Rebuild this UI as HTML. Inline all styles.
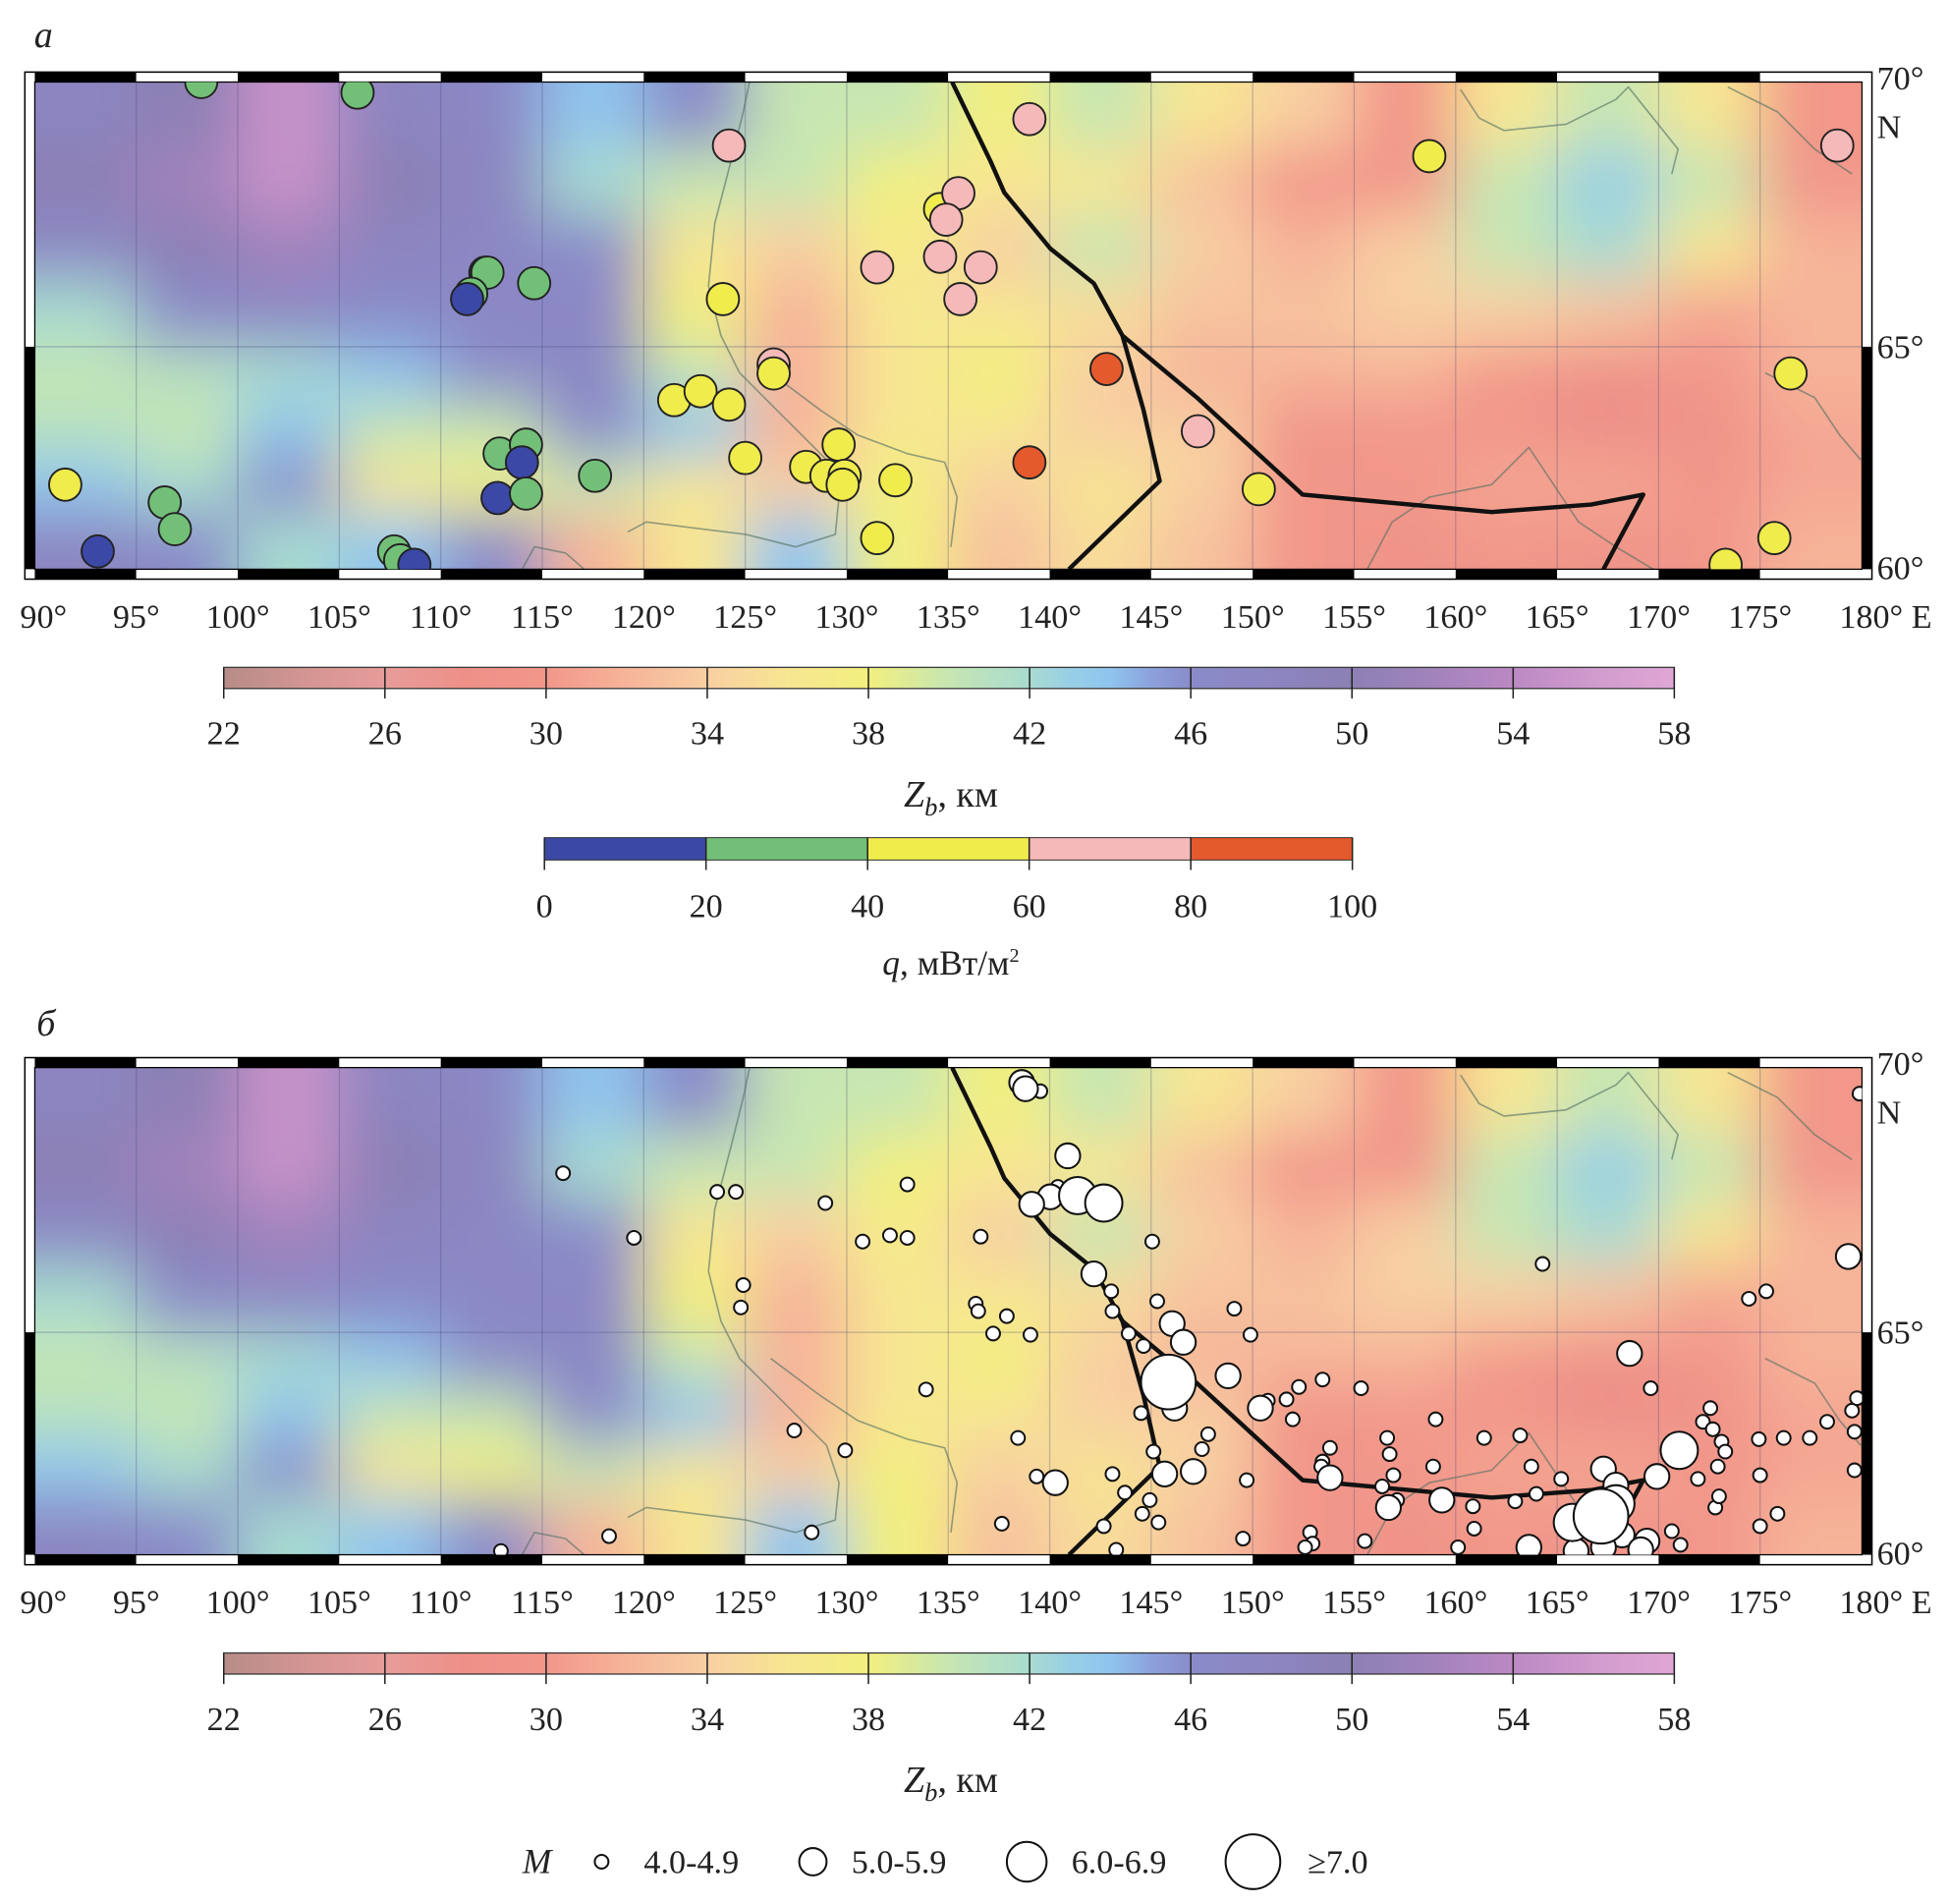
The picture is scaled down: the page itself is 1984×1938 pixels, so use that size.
<!DOCTYPE html>
<html><head><meta charset="utf-8"><style>
html,body{margin:0;padding:0;background:#fff;}
svg{display:block;}
text{font-family:"Liberation Serif",serif;fill:#222;}
</style></head>
<body>
<svg id="fig" xmlns="http://www.w3.org/2000/svg" width="1984" height="1938" viewBox="0 0 1568 1532" preserveAspectRatio="none" font-family="Liberation Serif, serif">
<defs>
<filter id="blur" x="-10%" y="-20%" width="120%" height="140%"><feGaussianBlur stdDeviation="24"/></filter>
<clipPath id="clipA"><rect x="28" y="66" width="1470" height="392"/></clipPath>
<clipPath id="clipB"><rect x="28" y="859" width="1470" height="392"/></clipPath>
<linearGradient id="zgrad" x1="0" x2="1" y1="0" y2="0"></linearGradient>
</defs>
<g id="root"></g>
</svg>
<script>
// ---- data ----
const lonTicks = [90,95,100,105,110,115,120,125,130,135,140,145,150,155,160,165,170,175,180];
const zbTicks = [22,26,30,34,38,42,46,50,54,58];
const qTicks = [0,20,40,60,80,100];
const qColors = ["#3c48a6","#72c078","#f0ec4c","#f4b9b8","#e45a2c"];
const magLabels = ["4.0-4.9","5.0-5.9","6.0-6.9","≥7.0"];
// Zb grid: rows from 70N to 60N in 1.25° steps, columns 90E..180E in 5° steps
const zbGrid = [
 [48,50,55,48,47,44,46,40,40,38,40,36,34,30,36,40,36,30],
 [50,52,55,50,48,42,40,40,38,36,36,33,30,30,40,43,40,30],
 [47,50,52,48,47,46,36,34,37,34,40,34,32,34,40,42,36,32],
 [42,46,47,46,47,47,38,32,36,36,35,33,33,34,34,33,31,32],
 [40,41,42,44,46,47,40,32,36,38,34,32,32,32,30,28,30,32],
 [41,40,44,40,40,46,44,32,36,36,34,34,29,30,30,28,29,31],
 [44,42,46,36,38,40,36,34,38,34,36,34,30,30,31,31,30,31],
 [48,46,42,44,46,32,36,44,38,33,35,33,30,29,30,29,30,32]
];
// heat flow stations: lon, lat, q
const hfLon = [98.2,105.9,124.2,139.0,158.7,178.8,134.6,135.5,134.9,134.6,136.6,131.5,135.6,112.2,112.3,111.5,111.3,114.6,123.9,126.4,126.4,142.8,121.5,122.8,124.2,176.5,147.3,125.0,129.6,128.0,129.0,129.9,129.8,132.4,139.0,150.3,131.5,173.3,175.7,91.5,96.4,96.9,93.1,107.7,108.0,108.7,112.9,114.2,114.0,112.8,114.2,117.6];
const hfLat = [70.0,69.8,68.8,69.3,68.6,68.8,67.6,67.9,67.4,66.7,66.5,66.5,65.9,66.4,66.4,66.0,65.9,66.2,65.9,64.6,64.4,64.5,63.8,64.0,63.7,64.4,63.1,62.5,62.8,62.3,62.1,62.1,61.9,62.0,62.4,61.8,60.7,60.1,60.7,61.9,61.5,60.9,60.4,60.4,60.2,60.1,62.6,62.8,62.4,61.6,61.7,62.1];
const hfQ = [30,30,70,70,50,70,50,70,70,70,70,70,70,10,30,30,10,30,50,70,50,90,50,50,50,50,70,50,50,50,50,50,50,50,90,50,50,50,50,50,30,30,10,30,30,10,30,30,10,10,30,30];
// earthquakes: positions (displayed px) -> lon/lat, magnitude class
const eqX = [822,825,837,859,867,888,845,830,851,453,577,592,664,730,510,694,716,730,789,927,880,894,1241,1487,598,596,785,787,810,799,829,895,931,993,1006,943,952,908,920,940,945,988,1407,1421,1311,745,1328,1014,1035,1020,1045,1064,1095,1040,918,639,819,680,967,972,1155,1194,1223,1116,1118,1070,1064,1153,1121,834,849,895,937,960,928,1003,1070,1063,1160,1117,1112,1124,1185,1219,1236,1256,1232,1290,1300,1333,1351,1366,1382,1370,1378,1385,1388,1376,1415,1435,1456,1470,1492,1490,1494,1492,1416,1380,1383,1288,1300,1305,1265,1325,1352,1345,1230,1268,1290,1320,1416,1430,905,925,919,932,888,806,653,490,403,898,1000,1054,1056,1050,1098,1173,1186,1496];
const eqY = [871,876,878,930,962,968,963,969,955,944,959,959,968,953,996,999,994,996,995,999,1025,1039,1017,1011,1034,1052,1049,1055,1059,1073,1074,1055,1047,1053,1074,1065,1080,1073,1083,1112,1133,1107,1045,1039,1089,1118,1117,1133,1126,1127,1116,1110,1117,1142,1137,1151,1157,1167,1166,1154,1142,1157,1155,1157,1170,1165,1176,1180,1187,1188,1193,1186,1186,1184,1168,1191,1189,1180,1207,1213,1196,1207,1212,1208,1202,1190,1180,1182,1195,1188,1167,1190,1180,1144,1150,1160,1168,1133,1158,1157,1157,1144,1152,1135,1125,1183,1187,1213,1204,1220,1210,1235,1225,1240,1243,1232,1245,1248,1245,1247,1228,1218,1201,1207,1218,1225,1228,1226,1233,1236,1248,1247,1238,1233,1242,1245,1240,1245,1230,880];
const eqM = [1,1,0,1,2,2,1,1,0,0,0,0,0,0,0,0,0,0,0,0,1,0,0,1,0,0,0,0,0,0,0,0,0,0,0,1,1,0,0,3,1,1,0,0,1,0,0,1,0,0,0,0,0,0,0,0,0,0,0,0,0,0,0,0,0,0,0,0,0,0,1,0,1,1,0,0,1,0,1,1,0,0,0,0,0,0,0,1,1,1,2,0,0,0,0,0,0,0,0,0,0,0,0,0,0,0,0,0,0,3,2,1,2,1,0,0,1,1,1,1,0,0,0,0,0,0,0,0,0,0,0,0,0,0,0,0,0,0,0,0];

// ---- scales ----
const X0=28, PXDEG=16.33;
function lonX(l){return X0+(l-90)*PXDEG;}
function latY(lat,oy){return oy+(lat>=65? 66+(70-lat)*42.6 : 279+(65-lat)*35.8);}
function xLon(x){return 90+(x-X0)/PXDEG;}
function yLat(y,oy){y-=oy; return y<279? 70-(y-66)/42.6 : 65-(y-279)/35.8;}
const cstops=[[22,"#b68c88"],[24,"#d39592"],[26,"#e79c9a"],[28,"#ee9088"],[30,"#f2978a"],[32,"#f6b499"],[34,"#f8cfa2"],[36,"#f7e692"],[38,"#f2ef7e"],[40,"#c6e6b2"],[42,"#a8dbd0"],[43,"#98cfe6"],[44,"#8fc5ee"],[45,"#8ca2dc"],[46,"#8a8bc9"],[48,"#8c85c0"],[50,"#8c80b4"],[52,"#a283bc"],[54,"#bc89c4"],[56,"#d09bcd"],[58,"#e0a7d5"]];
function hex(h){return [1,3,5].map(i=>parseInt(h.substr(i,2),16));}
function zColor(v){
  if(v<=22) return cstops[0][1]; if(v>=58) return cstops[cstops.length-1][1];
  for(let i=0;i<cstops.length-1;i++){const a=cstops[i],b=cstops[i+1];
    if(v>=a[0]&&v<=b[0]){const t=(v-a[0])/(b[0]-a[0]);const ca=hex(a[1]),cb=hex(b[1]);
      return "rgb("+ca.map((c,k)=>Math.round(c+(cb[k]-c)*t)).join(",")+")";}}
}
const NS="http://www.w3.org/2000/svg";
const root=document.getElementById('root');
function el(tag,attrs,parent){const e=document.createElementNS(NS,tag);for(const k in attrs)e.setAttribute(k,attrs[k]);(parent||root).appendChild(e);return e;}
function txt(s,x,y,size,parent,anchor,style){const t=el('text',{x:x,y:y,'font-size':size,'text-anchor':anchor||'middle','font-family':'Liberation Serif, serif'},parent);if(style)t.setAttribute('font-style',style);t.textContent=s;return t;}

const grad=document.getElementById('zgrad');
cstops.forEach(s=>{const st=document.createElementNS(NS,'stop');st.setAttribute('offset',((s[0]-22)/36*100)+'%');st.setAttribute('stop-color',s[1]);grad.appendChild(st);});

const boundary1=[[766,66],[797,130],[808,155],[845,200],[880,228],[903,270],[920,330],[933,387],[860,458]];
const boundary2=[[903,270],[963,320],[1048,398],[1200,412],[1280,406],[1322,398],[1290,458]];
const rivers=[
 [[603,66],[598,90],[588,130],[575,180],[570,230],[580,270],[595,300],[615,320],[640,345],[665,370],[675,400],[672,430],[640,440],[600,430],[560,425],[520,420],[505,428]],
 [[620,300],[660,330],[690,350],[730,365],[760,372],[770,400],[765,440]],
 [[1175,72],[1190,95],[1210,105],[1260,100],[1300,80],[1310,70],[1330,95],[1350,120],[1345,140]],
 [[1390,70],[1430,90],[1460,120],[1490,140]],
 [[1420,300],[1460,320],[1480,350],[1497,370]],
 [[1100,458],[1120,420],[1150,400],[1200,390],[1230,360],[1250,390],[1270,420],[1300,440],[1330,458]],
 [[420,458],[430,440],[455,445],[470,458]]
];

function panel(oy,name){
  const g=el('g',{},root);
  
  
  const hm=el('g',{'clip-path':'url(#'+(oy?'clipB':'clipA')+')'},g);
  
  
  const hb=el('g',{filter:'url(#blur)'},hm);
  zbGrid.forEach((row,r)=>row.forEach((v,c)=>{
    let x1=lonX(90+5*c),x2=lonX(95+5*c),y1=latY(70-1.25*r,oy),y2=latY(70-1.25*(r+1),oy);
    if(c===0)x1-=60; if(c===row.length-1)x2+=60; if(r===0)y1-=60; if(r===zbGrid.length-1)y2+=60;
    const rc=el('rect',{x:x1,y:y1,width:x2-x1+1,height:y2-y1+1,fill:zColor(v)},hb);
    
    
  }));
  lonTicks.slice(1,-1).forEach(l=>el('line',{x1:lonX(l),x2:lonX(l),y1:latY(70,oy),y2:latY(60,oy),stroke:'rgba(70,70,120,0.3)','stroke-width':1},hm));
  el('line',{x1:28,x2:1498,y1:latY(65,oy),y2:latY(65,oy),stroke:'rgba(70,70,120,0.3)','stroke-width':1},hm);
  rivers.forEach(rv=>{const p=el('polyline',{points:rv.map(q=>q[0]+','+(q[1]+oy)).join(' '),fill:'none',stroke:'rgba(80,110,100,0.6)','stroke-width':1.3},hm);
    });
  [boundary1,boundary2].forEach(b=>{const p=el('polyline',{points:b.map(q=>q[0]+','+(q[1]+oy)).join(' '),fill:'none',stroke:'#111','stroke-width':3.5,'stroke-linejoin':'round'},hm);
    });
  const top=oy+58, bot=oy+458;
  for(let i=0;i<18;i++){const x=lonX(90+5*i);const f=i%2===0?'#000':'#fff';
    el('rect',{x:x,y:top,width:PXDEG*5,height:8,fill:f},g);el('rect',{x:x,y:bot,width:PXDEG*5,height:8,fill:f},g);}
  el('rect',{x:20,y:latY(70,oy),width:8,height:latY(65,oy)-latY(70,oy),fill:'#fff'},g);
  el('rect',{x:20,y:latY(65,oy),width:8,height:latY(60,oy)-latY(65,oy),fill:'#000'},g);
  el('rect',{x:1498,y:latY(70,oy),width:8,height:latY(65,oy)-latY(70,oy),fill:'#fff'},g);
  el('rect',{x:1498,y:latY(65,oy),width:8,height:latY(60,oy)-latY(65,oy),fill:'#000'},g);
  el('rect',{x:20,y:top,width:1486,height:408,fill:'none',stroke:'#000','stroke-width':1.2},g);
  el('rect',{x:28,y:top+8,width:1470,height:392,fill:'none',stroke:'#000','stroke-width':1},g);
  lonTicks.forEach((l,i)=>{let x=lonX(l);let s=l+'°';
    if(i===0)x=35; if(i===lonTicks.length-1){s='180° E';x=1517;}
    const t=txt(s,x,oy+505,27,g);});
  [['70°',72],['N',111],['65°',288],['60°',466]].forEach(a=>{const t=txt(a[0],1510,oy+a[1],27,g,'start');});
  return g;
}
function zbColorbar(oy){
  const g=el('g',{},root);
  
  
  el('rect',{x:180,y:oy,width:1167,height:17,fill:'url(#zgrad)',stroke:'#333','stroke-width':1},g);
  zbTicks.forEach(v=>{const x=180+(v-22)/36*1167;el('line',{x1:x,x2:x,y1:oy,y2:oy+25,stroke:'#222','stroke-width':1.2},g);
    const t=txt(String(v),x,oy+62,27,g);});
  const t=el('text',{x:765,y:oy+112,'font-size':30,'text-anchor':'middle','font-family':'Liberation Serif, serif'},g);
  t.innerHTML='<tspan font-style="italic">Z</tspan><tspan font-style="italic" font-size="21" dy="7">b</tspan><tspan dy="-7">, км</tspan>';
  
}

const pA=panel(0,'panel-a-map');
const pB=panel(793,'panel-b-map');
const hfG=el('g',{'clip-path':'url(#clipA)'},pA);
hfLon.forEach((l,i)=>{const c=el('circle',{cx:lonX(l),cy:latY(hfLat[i],0),r:13,fill:qColors[Math.min(4,Math.floor(hfQ[i]/20))],stroke:'#222','stroke-width':1.5},hfG);
  
  });
const eqR=[5.5,10,15,22];
const eqG=el('g',{'clip-path':'url(#clipB)'},pB);
const order=eqM.map((m,i)=>i).sort((a,b)=>eqM[a]-eqM[b]);
order.forEach(i=>{const lon=xLon(eqX[i]),lat=yLat(eqY[i],793);
  const c=el('circle',{cx:lonX(lon),cy:latY(lat,793),r:eqR[eqM[i]],fill:'#fff',stroke:'#111','stroke-width':1.6},eqG);
  
  });

zbColorbar(537);
zbColorbar(1330);
const qg=el('g',{},root);


qColors.forEach((c,i)=>{const r=el('rect',{x:438+i*130,y:674,width:130,height:18,fill:c,stroke:'#333','stroke-width':0.8},qg);
  });
qTicks.forEach(v=>{const x=438+v*6.5;el('line',{x1:x,x2:x,y1:674,y2:700,stroke:'#222','stroke-width':1.2},qg);
  const t=txt(String(v),x,738,27,qg);});
const qt=el('text',{x:765,y:784,'font-size':28,'text-anchor':'middle','font-family':'Liberation Serif, serif'},qg);
qt.innerHTML='<tspan font-style="italic">q</tspan>, мВт/м<tspan font-size="16" dy="-10">2</tspan>';

let t=txt('а',35,38,30,root,'middle','italic');
t=txt('б',37,833,30,root,'middle','italic');
const lg=el('g',{},root);


txt('M',432,1507,28,lg,'middle','italic');
const lx=[484,654,826,1008], tx=[518,685,862,1052];
magLabels.forEach((s,i)=>{const c=el('circle',{cx:lx[i],cy:1498,r:[5.5,11,16,22][i],fill:'#fff',stroke:'#111','stroke-width':1.6},lg);
  
  const tt=txt(s,tx[i],1507,27,lg,'start');});
</script>
</body></html>
